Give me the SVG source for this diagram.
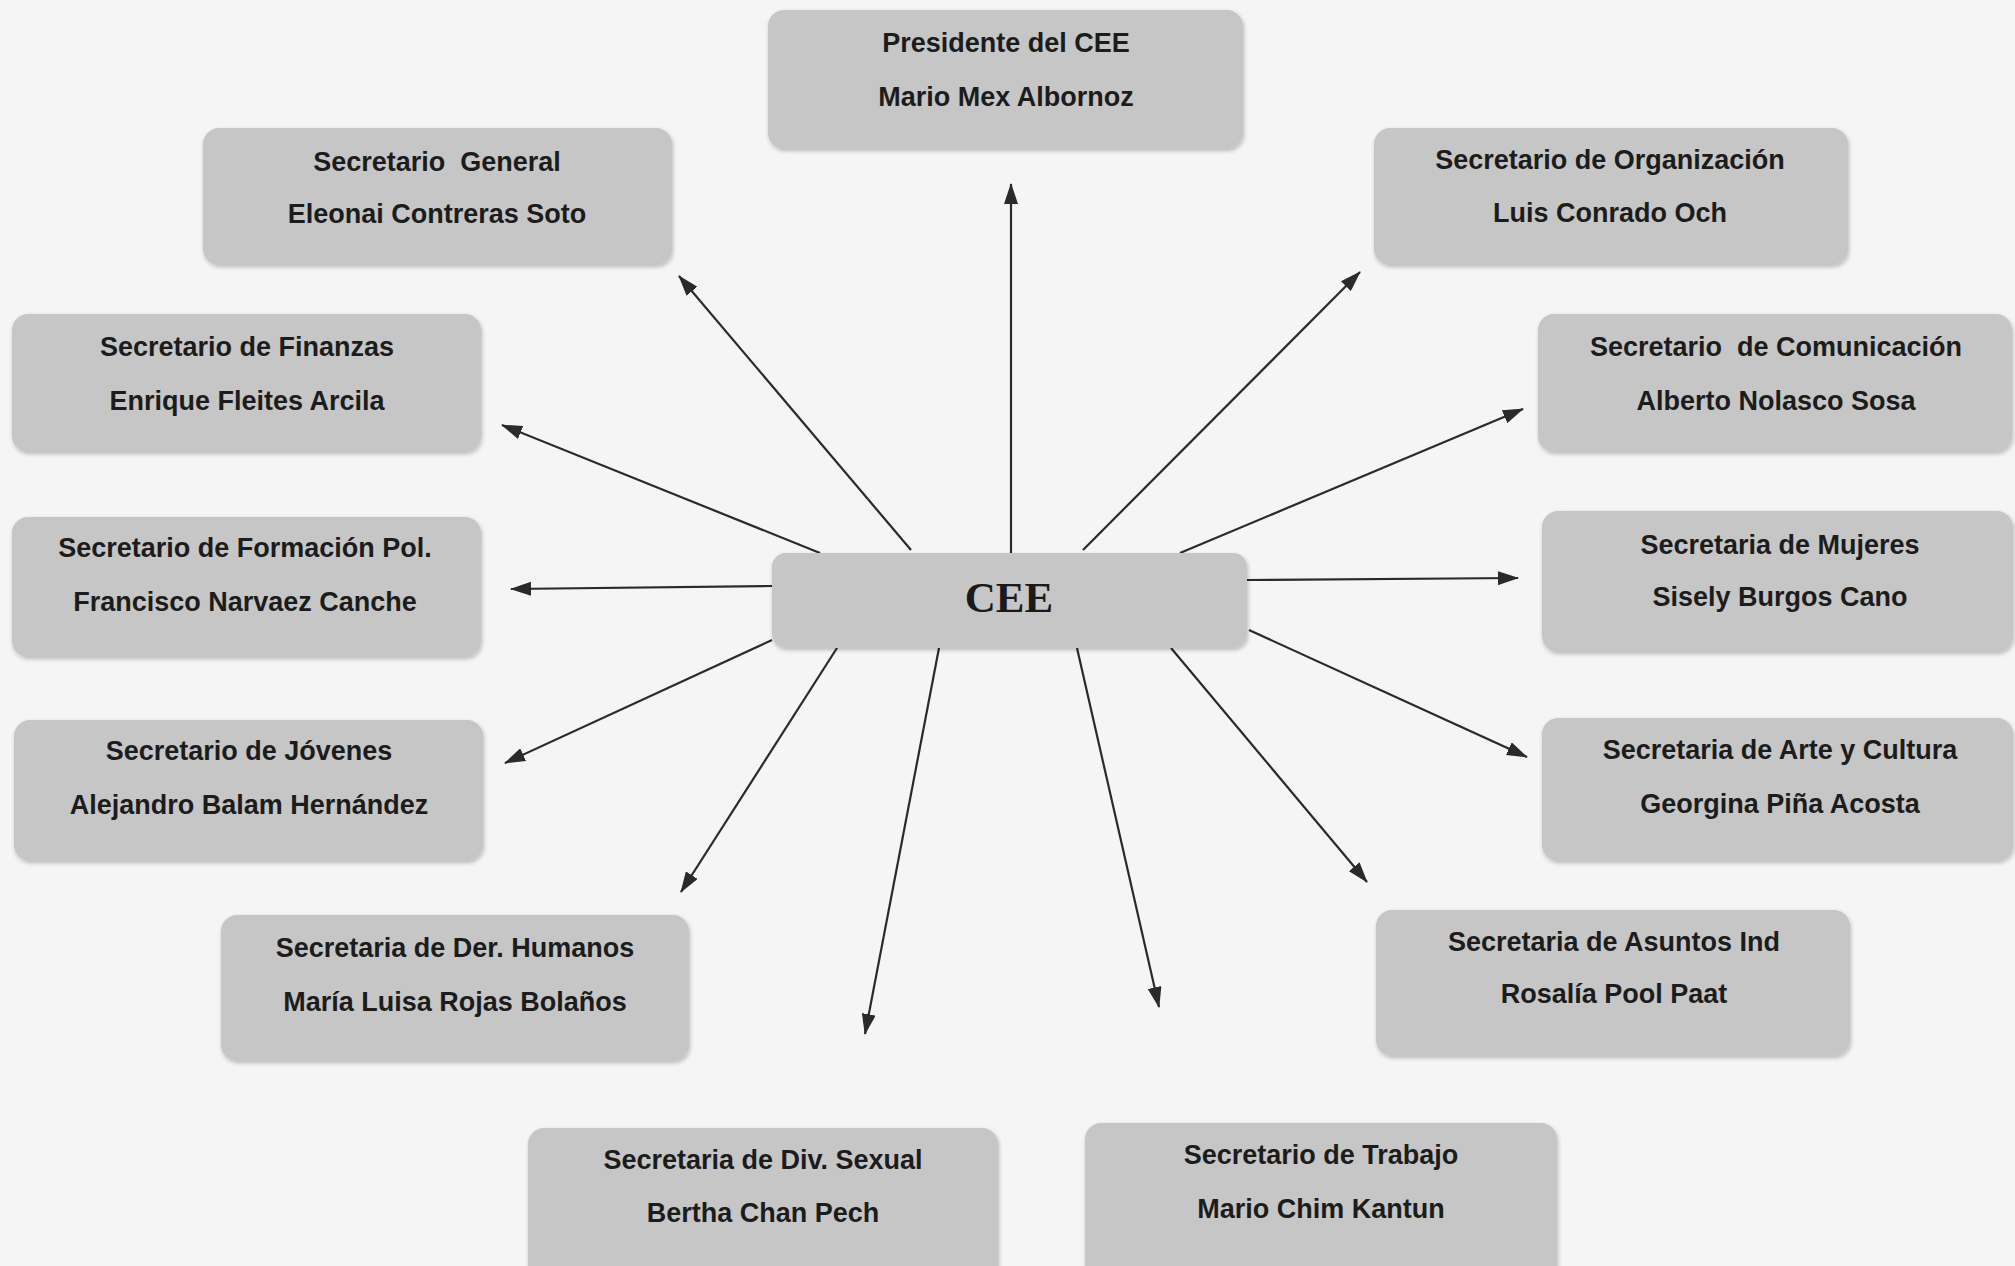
<svg xmlns="http://www.w3.org/2000/svg" width="2015" height="1266" viewBox="0 0 2015 1266">
<defs>
<marker id="ah" markerUnits="userSpaceOnUse" markerWidth="22" markerHeight="14" refX="20" refY="7" orient="auto">
<path d="M0,0 L21,7 L0,14 z" fill="#2a2a2a"/>
</marker>
<filter id="sh" x="-5%" y="-5%" width="110%" height="115%">
<feGaussianBlur in="SourceAlpha" stdDeviation="2"/>
<feOffset dx="1" dy="2"/>
<feComponentTransfer><feFuncA type="linear" slope="0.25"/></feComponentTransfer>
<feMerge><feMergeNode/><feMergeNode in="SourceGraphic"/></feMerge>
</filter>
</defs>
<style>
.box{fill:#c6c6c6;filter:url(#sh);}
.t{font-family:"Liberation Sans",Arial,sans-serif;font-weight:bold;font-size:27px;fill:#1c1c1c;text-anchor:middle;}
.c{font-family:"Liberation Serif","Times New Roman",serif;font-weight:bold;font-size:43px;fill:#1a1a1a;text-anchor:middle;}
.ln{stroke:#2a2a2a;stroke-width:2.2;fill:none;marker-end:url(#ah);}
</style>
<rect x="0" y="0" width="2015" height="1266" fill="#f5f5f5"/>
<g id="connectors">
<line class="ln" x1="1011" y1="553" x2="1011" y2="184"/>
<line class="ln" x1="911" y1="550" x2="679" y2="276"/>
<line class="ln" x1="1083" y1="550" x2="1360" y2="272"/>
<line class="ln" x1="820" y1="553" x2="502" y2="425"/>
<line class="ln" x1="1180" y1="553" x2="1523" y2="409"/>
<line class="ln" x1="772" y1="586" x2="511" y2="589"/>
<line class="ln" x1="1247" y1="580" x2="1518" y2="578"/>
<line class="ln" x1="772" y1="640" x2="505" y2="763"/>
<line class="ln" x1="1249" y1="630" x2="1527" y2="757"/>
<line class="ln" x1="837" y1="648" x2="681" y2="892"/>
<line class="ln" x1="1171" y1="648" x2="1367" y2="882"/>
<line class="ln" x1="939" y1="648" x2="865" y2="1034"/>
<line class="ln" x1="1077" y1="648" x2="1159" y2="1007"/>
</g>
<g id="cee">
<rect class="box" x="772" y="553" width="475" height="95" rx="14"/>
<text class="c" x="1009" y="612">CEE</text>
</g>
<g id="presidente">
<rect class="box" x="768" y="10" width="475" height="139" rx="16"/>
<text class="t" x="1006" y="52">Presidente del CEE</text>
<text class="t" x="1006" y="106">Mario Mex Albornoz</text>
</g>
<g id="sec-general">
<rect class="box" x="203" y="128" width="469" height="137" rx="16"/>
<text class="t" x="437" y="171" xml:space="preserve">Secretario  General</text>
<text class="t" x="437" y="223">Eleonai Contreras Soto</text>
</g>
<g id="sec-organizacion">
<rect class="box" x="1374" y="128" width="474" height="137" rx="16"/>
<text class="t" x="1610" y="169">Secretario de Organización</text>
<text class="t" x="1610" y="222">Luis Conrado Och</text>
</g>
<g id="sec-finanzas">
<rect class="box" x="12" y="314" width="469" height="138" rx="16"/>
<text class="t" x="247" y="356">Secretario de Finanzas</text>
<text class="t" x="247" y="410">Enrique Fleites Arcila</text>
</g>
<g id="sec-comunicacion">
<rect class="box" x="1538" y="314" width="474" height="138" rx="16"/>
<text class="t" x="1776" y="356" xml:space="preserve">Secretario  de Comunicación</text>
<text class="t" x="1776" y="410">Alberto Nolasco Sosa</text>
</g>
<g id="sec-formacion">
<rect class="box" x="12" y="517" width="469" height="140" rx="16"/>
<text class="t" x="245" y="557">Secretario de Formación Pol.</text>
<text class="t" x="245" y="611">Francisco Narvaez Canche</text>
</g>
<g id="sec-mujeres">
<rect class="box" x="1542" y="511" width="471" height="141" rx="16"/>
<text class="t" x="1780" y="554">Secretaria de Mujeres</text>
<text class="t" x="1780" y="606">Sisely Burgos Cano</text>
</g>
<g id="sec-jovenes">
<rect class="box" x="14" y="720" width="469" height="141" rx="16"/>
<text class="t" x="249" y="760">Secretario de Jóvenes</text>
<text class="t" x="249" y="814">Alejandro Balam Hernández</text>
</g>
<g id="sec-arte">
<rect class="box" x="1542" y="718" width="471" height="143" rx="16"/>
<text class="t" x="1780" y="759">Secretaria de Arte y Cultura</text>
<text class="t" x="1780" y="813">Georgina Piña Acosta</text>
</g>
<g id="sec-derechos">
<rect class="box" x="221" y="915" width="468" height="146" rx="16"/>
<text class="t" x="455" y="957">Secretaria de Der. Humanos</text>
<text class="t" x="455" y="1011">María Luisa Rojas Bolaños</text>
</g>
<g id="sec-asuntos">
<rect class="box" x="1376" y="910" width="474" height="146" rx="16"/>
<text class="t" x="1614" y="951">Secretaria de Asuntos Ind</text>
<text class="t" x="1614" y="1003">Rosalía Pool Paat</text>
</g>
<g id="sec-diversidad">
<rect class="box" x="528" y="1128" width="470" height="160" rx="16"/>
<text class="t" x="763" y="1169">Secretaria de Div. Sexual</text>
<text class="t" x="763" y="1222">Bertha Chan Pech</text>
</g>
<g id="sec-trabajo">
<rect class="box" x="1085" y="1123" width="472" height="165" rx="16"/>
<text class="t" x="1321" y="1164">Secretario de Trabajo</text>
<text class="t" x="1321" y="1218">Mario Chim Kantun</text>
</g>
</svg>
